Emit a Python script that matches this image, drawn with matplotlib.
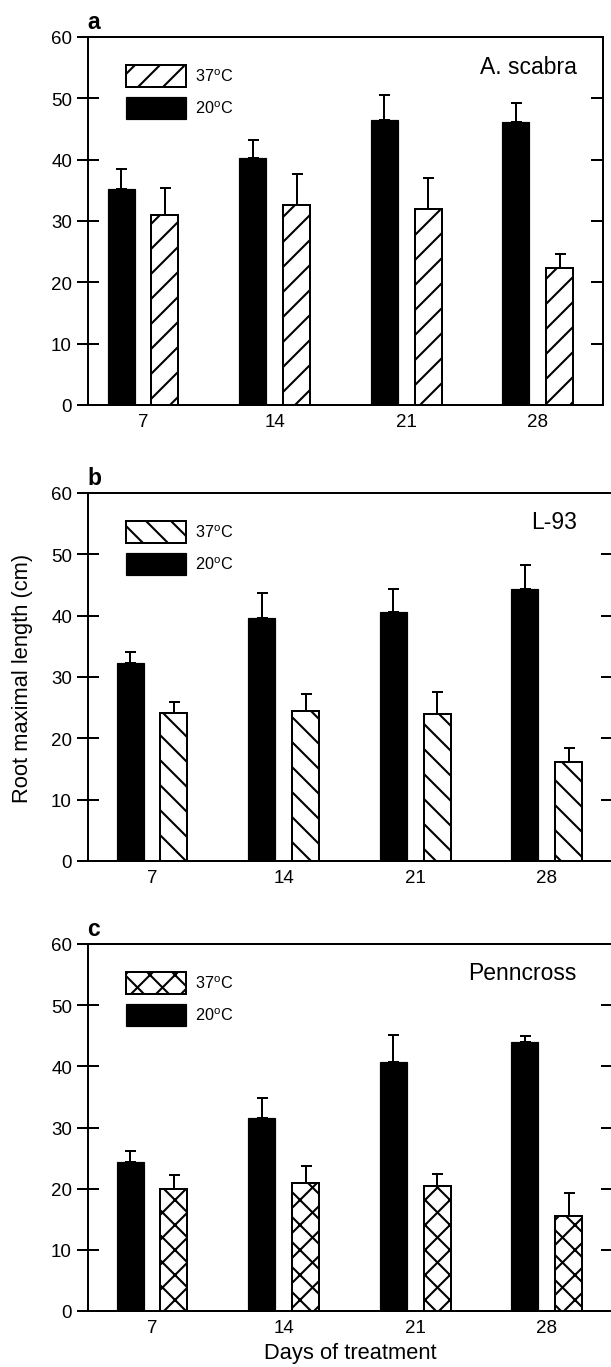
import matplotlib
matplotlib.use("Agg")
import matplotlib.pyplot as plt
import numpy as np

# data (root maximal length, cm)
days = ["7", "14", "21", "28"]

a_20 = [35.2, 40.3, 46.4, 46.2]
a_20_err = [3.2, 2.9, 4.1, 3.1]
a_37 = [30.9, 32.6, 31.9, 22.3]
a_37_err = [4.4, 5.1, 5.1, 2.3]

b_20 = [32.3, 39.7, 40.6, 44.3]
b_20_err = [1.8, 4.0, 3.7, 4.0]
b_37 = [24.2, 24.5, 23.9, 16.1]
b_37_err = [1.8, 2.7, 3.6, 2.4]

c_20 = [24.4, 31.5, 40.7, 43.9]
c_20_err = [1.7, 3.3, 4.5, 1.1]
c_37 = [19.9, 21.0, 20.5, 15.6]
c_37_err = [2.3, 2.7, 1.9, 3.7]

letters = ["a", "b", "c"]
cultivars = ["A. scabra", "L-93", "Penncross"]
hatches = ["//", "\\\\", "xx"]

DPI = 150
W, H = 611, 1368
plt.rcParams["font.family"] = ["Liberation Sans", "DejaVu Sans"]
plt.rcParams["hatch.linewidth"] = 1.0


def pt(p):
    # pixels -> points
    return p * 72 / DPI


fig = plt.figure(figsize=(W / DPI, H / DPI), dpi=DPI)

# panel frames in pixels: top, bottom, right, x of first group
frames = [(38, 406, 603, 143), (494, 862, 613, 152), (945, 1312, 613, 152)]
left = 88
step = 131.6  # px between day groups
bw = 0.205
off = 0.167

data = [(a_20, a_20_err, a_37, a_37_err),
        (b_20, b_20_err, b_37, b_37_err),
        (c_20, c_20_err, c_37, c_37_err)]

x = np.arange(len(days))
axes = []
for i, ((top, bot, right, x0), (v20, e20, v37, e37)) in enumerate(zip(frames, data)):
    ax = fig.add_axes([left / W, 1 - bot / H, (right - left) / W, (bot - top) / H])
    axes.append(ax)

    b37 = ax.bar(x + off, v37, width=bw, color="white", edgecolor="black",
                 hatch=hatches[i], linewidth=pt(2))
    b20 = ax.bar(x - off, v20, width=bw, color="black", edgecolor="black",
                 linewidth=pt(1.2))
    ax.errorbar(x - off, v20, yerr=[np.zeros(4), e20], fmt="none", ecolor="black",
                elinewidth=pt(2), capsize=pt(5.5), capthick=pt(2))
    ax.errorbar(x + off, v37, yerr=[np.zeros(4), e37], fmt="none", ecolor="black",
                elinewidth=pt(2), capsize=pt(5.5), capthick=pt(2))

    ax.set_ylim(0, 60)
    xmin = -(x0 - left) / step
    ax.set_xlim(xmin, xmin + (right - left) / step)
    ax.set_yticks(range(0, 61, 10))
    ax.set_xticks(x, days)
    ax.tick_params(axis="y", direction="inout", length=pt(22), width=pt(2),
                   pad=pt(5), labelsize=9)
    ax.tick_params(axis="x", length=0, pad=pt(8), labelsize=9)
    for s in ax.spines.values():
        s.set_linewidth(pt(2))

    sec = ax.secondary_yaxis("right")
    sec.set_yticks(range(0, 61, 10))
    sec.tick_params(direction="in", length=pt(12), width=pt(2), labelright=False)
    sec.spines["right"].set_linewidth(pt(2))

    ax.legend([b37, b20], ["37$^\\mathregular{o}$C", "20$^\\mathregular{o}$C"],
              loc="upper left", bbox_to_anchor=(126 / W, 1 - (top + 28) / H),
              bbox_transform=fig.transFigure, frameon=False, fontsize=7.8,
              handlelength=3.7, handleheight=1.7, labelspacing=0.6,
              handletextpad=0.55, borderpad=0, borderaxespad=0)

    fig.text(87 / W, 1 - (top - 9) / H, letters[i], fontsize=11, fontweight="bold",
             ha="left", va="baseline")
    fig.text(577 / W, 1 - (top + 29) / H, cultivars[i], fontsize=11,
             ha="right", va="center")

fig.text(23 / W, 1 - 678 / H, "Root maximal length (cm)", rotation=90,
         fontsize=10.5, ha="center", va="center")
axes[2].set_xlabel("Days of treatment", fontsize=10.5, labelpad=pt(6))

fig.savefig("out.png", dpi=DPI)
